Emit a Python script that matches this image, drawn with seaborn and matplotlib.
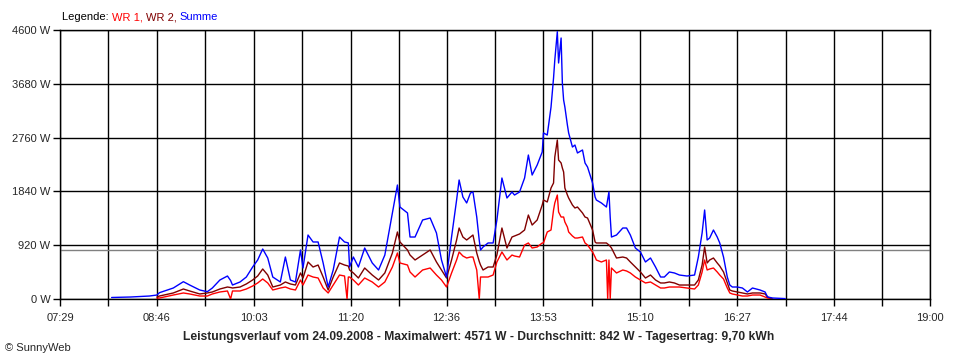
import numpy as np
import pandas as pd
import seaborn as sns
import matplotlib.pyplot as plt

# Zeit in Minuten seit Mitternacht, Leistung in W
minuten = [490, 505, 520, 526, 528, 539, 547, 552, 560, 566, 570, 576, 582, 584.5, 586, 592, 597,
           602, 606, 610, 614, 618, 624, 628, 632, 636, 640, 642, 646, 650, 654, 658, 662, 666,
           671, 675, 677, 678, 679, 682, 686, 691, 697, 702, 707, 713, 717, 719, 725, 727, 731,
           737, 743, 748, 752, 756, 760, 764, 766, 769, 772, 775, 777, 780, 782, 783, 785, 789,
           793, 796, 800, 804, 808, 810, 814, 818, 821, 824, 828, 832, 833, 836, 839, 841, 842,
           844, 845, 847, 848, 849, 850, 852, 853, 856, 858, 860, 864, 866, 868, 872, 874, 875,
           879, 883, 884, 885, 886, 887, 891, 896, 899, 902, 906, 910, 914, 918, 922, 926, 929,
           933, 937, 941, 947, 953, 956, 959, 961, 963, 965, 968, 971, 973, 976, 979, 981, 983,
           987, 991, 995, 999, 1005, 1009, 1011, 1015, 1025]

summe = [26, 34, 51, 68, 108, 188, 296, 239, 154, 125, 188, 325, 393, 316, 239, 291, 376,
         547, 667, 855, 701, 376, 291, 718, 325, 291, 838, 530, 1094, 975, 975, 616, 205, 496,
         1060, 975, 965, 958, 547, 718, 547, 872, 616, 496, 752, 1471, 1949, 1573, 1471, 1060, 1060,
         1351, 1385, 1129, 667, 376, 1060, 1693, 2035, 1744, 1642, 1813, 1830, 1402, 1000, 838, 889, 958,
         958, 1351, 2069, 1727, 1830, 1778, 1830, 2069, 2462, 2120, 2291, 2514, 2839, 2804, 3283, 3779, 4087,
         4571, 4036, 4463, 3694, 3403, 3283, 2975, 2839, 2599, 2633, 2497, 2548, 2326, 2257, 1984, 1744, 1693,
         1642, 1573, 1700, 1830, 1400, 1060, 1094, 1214, 1214, 1094, 872, 804, 633, 701, 547, 376, 376,
         462, 445, 410, 393, 410, 718, 1129, 1522, 1009, 1043, 1180, 1060, 958, 718, 376, 239, 205,
         205, 188, 120, 188, 154, 120, 34, 17, 7]

wr2 = [np.nan, np.nan, np.nan, 34, 51, 103, 171, 137, 86, 103, 120, 171, 205, 196, 188, 205, 257,
       325, 393, 513, 410, 205, 239, 291, 257, 239, 445, 359, 633, 547, 581, 376, 154, 376,
       616, 581, 570, 564, 496, 445, 359, 530, 410, 325, 445, 787, 1146, 975, 838, 752, 667,
       752, 838, 633, 496, 359, 667, 1009, 1214, 1060, 1009, 1060, 1094, 787, 640, 581, 496, 547,
       547, 752, 1214, 872, 1060, 1077, 1112, 1180, 1436, 1265, 1351, 1607, 1693, 1659, 1898, 1984, 2428,
       2719, 2377, 2326, 2240, 2172, 1898, 1778, 1727, 1607, 1556, 1573, 1471, 1402, 1385, 1180, 975, 958,
       958, 958, 940, 923, 900, 872, 701, 718, 701, 633, 547, 462, 359, 410, 325, 274, 274,
       291, 274, 239, 239, 239, 325, 581, 889, 616, 667, 701, 616, 564, 462, 274, 154, 137,
       120, 103, 86, 103, 103, 86, 34, 0, np.nan]

wr1 = [np.nan, np.nan, np.nan, 17, 17, 68, 103, 86, 51, 51, 86, 120, 137, 0, 137, 137, 171,
       222, 274, 342, 274, 154, 188, 205, 171, 154, 325, 239, 410, 376, 359, 188, 103, 239,
       410, 393, 0, 376, 376, 325, 239, 359, 291, 205, 291, 547, 787, 616, 581, 462, 376,
       496, 530, 410, 325, 205, 445, 667, 804, 735, 701, 718, 718, 496, 0, 376, 376, 376,
       410, 633, 804, 667, 752, 735, 718, 923, 958, 872, 889, 958, 958, 1146, 1180, 1522, 1642,
       1778, 1488, 1402, 1402, 1402, 1317, 1231, 1146, 1077, 1043, 1043, 1060, 958, 923, 804, 718, 667,
       633, 667, 0, 667, 0, 530, 445, 496, 479, 445, 376, 325, 274, 291, 239, 188, 188,
       205, 205, 205, 188, 171, 239, 462, 667, 496, 513, 530, 462, 410, 342, 188, 103, 86,
       68, 51, 51, 68, 68, 34, 17, 0, np.nan]

durchschnitt = 842
x_labels = ['07:29', '08:46', '10:03', '11:20', '12:36', '13:53', '15:10', '16:27', '17:44', '19:00']
y_ticks = [0, 920, 1840, 2760, 3680, 4600]

farben = {'WR 1': '#ff0000', 'WR 2': '#800000', 'Summe': '#0000ff'}

df = pd.DataFrame({'Zeit': minuten, 'WR 1': wr1, 'WR 2': wr2, 'Summe': summe})
lang = df.melt(id_vars='Zeit', var_name='Reihe', value_name='Leistung').dropna()

sns.set_theme(style='white')
plt.rcParams['font.family'] = ['Liberation Sans', 'DejaVu Sans']
plt.rcParams['font.size'] = 8

fig = plt.figure(figsize=(9.6, 3.6), dpi=100)
ax = fig.add_axes([60 / 960, 61 / 360, 870 / 960, 269 / 360])

sns.lineplot(data=lang, x='Zeit', y='Leistung', hue='Reihe', hue_order=['WR 1', 'WR 2', 'Summe'],
             palette=farben, estimator=None, linewidth=1, legend=False, ax=ax, zorder=3)

ax.axhline(durchschnitt, color='#808080', linewidth=1, zorder=2)

def to_min(s):
    h, m = s.split(':')
    return int(h) * 60 + int(m)

major = [to_min(s) for s in x_labels]
minor = [(a + b) / 2 for a, b in zip(major[:-1], major[1:])]
ax.set_xlim(major[0], major[-1])
ax.set_ylim(0, 4600)
ax.set_xticks(major)
ax.set_xticklabels(x_labels)
ax.set_xticks(minor, minor=True)
ax.set_yticks(y_ticks)
ax.set_yticklabels([f'{v} W' for v in y_ticks])
ax.set_xlabel('')
ax.set_ylabel('')

ax.tick_params(axis='x', which='both', direction='out', length=5, width=1, color='black', pad=5,
               labelsize=8, bottom=True)
ax.tick_params(axis='y', direction='out', length=5, width=1, color='black', pad=2, labelsize=8, left=True)
ax.xaxis.grid(True, which='both', color='black', linewidth=1)
ax.yaxis.grid(True, which='major', color='black', linewidth=1)
ax.set_axisbelow(True)
for s in ax.spines.values():
    s.set_color('black')
    s.set_linewidth(1)

# Legende als farbiger Text oben links
t = fig.text(62 / 960, 1 - 22 / 360, 'Legende: ', color='black', fontsize=8, va='bottom')
for name in ['WR 1', 'WR 2', 'Summe']:
    txt = name + (', ' if name != 'Summe' else '')
    t = ax.annotate(txt, xy=(1, 0), xycoords=t, va='bottom', ha='left',
                    color=farben[name], fontsize=8, annotation_clip=False)

fig.text(479 / 960, 1 - 337 / 360,
         'Leistungsverlauf vom 24.09.2008 - Maximalwert: 4571 W - Durchschnitt: 842 W - Tagesertrag: 9,70 kWh',
         ha='center', va='center', fontsize=8.7, fontweight='bold')
fig.text(5 / 960, 1 - 348 / 360, '© SunnyWeb', ha='left', va='center', fontsize=8)

fig.savefig('out.png', dpi=100, facecolor='white')
